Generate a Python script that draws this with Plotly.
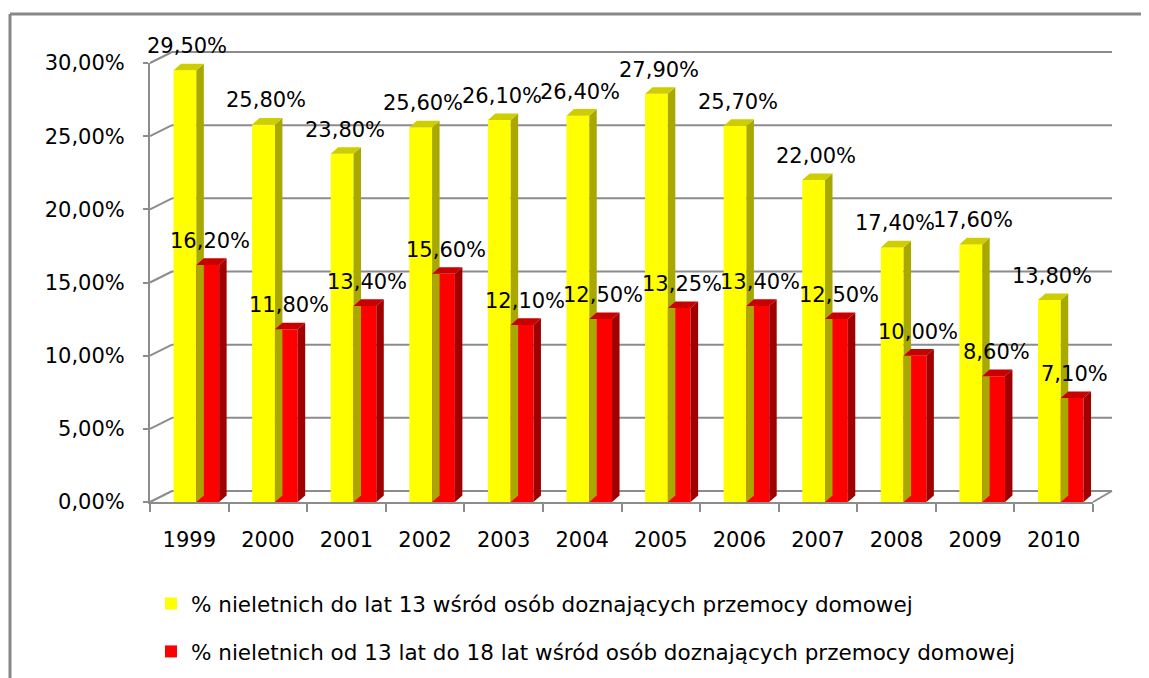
import plotly.graph_objects as go

years = [1999, 2000, 2001, 2002, 2003, 2004, 2005, 2006, 2007, 2008, 2009, 2010]
under13 = [29.5, 25.8, 23.8, 25.6, 26.1, 26.4, 27.9, 25.7, 22.0, 17.4, 17.6, 13.8]
from13to18 = [16.2, 11.8, 13.4, 15.6, 12.1, 12.5, 13.25, 13.4, 12.5, 10.0, 8.6, 7.1]
yticks = [0, 5, 10, 15, 20, 25, 30]
name1 = "% nieletnich do lat 13 wśród osób doznających przemocy domowej"
name2 = "% nieletnich od 13 lat do 18 lat wśród osób doznających przemocy domowej"


def pct(v):
    return f"{v:.2f}".replace(".", ",") + "%"


# page body margin offset of the browser (8px)
OFF = 8
W, H = 1149 - OFF, 678 - OFF
L, R, T, B = 150 - OFF, 1093 - OFF, 63 - OFF, 502 - OFF
XMIN, XMAX = years[0] - 0.5, years[-1] + 0.5
YMIN, YMAX = 0, 30
FONT = "DejaVu Sans"
GRID = "#8c8c8c"


def fx(px):
    return (px - OFF - L) / (R - L)


def fy(py):
    return (B - (py - OFF)) / (B - T)


def ydata_to_px(v):
    return OFF + B - (v - YMIN) / (YMAX - YMIN) * (B - T)


bw = 0.29
off1, off2 = -0.2, 0.09
dx = 0.095
dy = 0.45

fig = go.Figure()
fig.add_trace(go.Bar(x=years, y=under13, name=name1, width=bw, offset=off1,
                     marker=dict(color="#FFFF00", line=dict(width=0)),
                     legendgroup="a"))
fig.add_trace(go.Bar(x=years, y=from13to18, name=name2, width=bw, offset=off2,
                     marker=dict(color="#FF0000", line=dict(width=0)),
                     legendgroup="b"))

shapes = []
# back wall gridlines + floor (decorative 3D frame)
wdx, wdy = 22, 11
for v in yticks:
    py = ydata_to_px(v)
    shapes.append(dict(type="line", xref="paper", yref="paper",
                       x0=fx(150 + wdx), x1=fx(1093 + 19), y0=fy(py - wdy), y1=fy(py - wdy),
                       line=dict(color=GRID, width=2), layer="below"))
    shapes.append(dict(type="line", xref="paper", yref="paper",
                       x0=fx(150), x1=fx(150 + wdx), y0=fy(py), y1=fy(py - wdy),
                       line=dict(color=GRID, width=2), layer="below"))
py0 = ydata_to_px(0)
shapes.append(dict(type="line", xref="paper", yref="paper",
                   x0=fx(1093), x1=fx(1093 + 19), y0=fy(py0), y1=fy(py0 - wdy),
                   line=dict(color=GRID, width=2), layer="below"))

# 3D faces of bars
for vals, off, side, top in ((under13, off1, "#A8A800", "#CDCD00"),
                             (from13to18, off2, "#A00000", "#C80000")):
    for yr, v in zip(years, vals):
        x0 = yr + off
        x1 = x0 + bw
        shapes.append(dict(type="path", xref="x", yref="y",
                           path=f"M{x1},{0} L{x1},{v} L{x1+dx},{v+dy} L{x1+dx},{dy} Z",
                           fillcolor=side, line=dict(width=0), layer="above"))
        shapes.append(dict(type="path", xref="x", yref="y",
                           path=f"M{x0},{v} L{x1},{v} L{x1+dx},{v+dy} L{x0+dx},{v+dy} Z",
                           fillcolor=top, line=dict(width=0), layer="above"))

# outer border (top and left)
shapes.append(dict(type="line", xref="paper", yref="paper",
                   x0=fx(10), x1=fx(1160), y0=fy(14), y1=fy(14),
                   line=dict(color="#878787", width=3)))
shapes.append(dict(type="line", xref="paper", yref="paper",
                   x0=fx(10), x1=fx(10), y0=fy(14), y1=fy(690),
                   line=dict(color="#878787", width=3)))

annotations = []
for vals, off in ((under13, off1), (from13to18, off2)):
    for yr, v in zip(years, vals):
        annotations.append(dict(x=yr + off + bw / 2 + dx / 3, y=v, xref="x", yref="y",
                                text=pct(v),
                                showarrow=False, yanchor="bottom", yshift=10,
                                font=dict(family=FONT, size=21, color="#000000")))

fig.update_layout(
    width=W, height=H,
    margin=dict(l=L, r=W - R, t=T, b=H - B, autoexpand=False),
    paper_bgcolor="white", plot_bgcolor="rgba(0,0,0,0)",
    separators=", ",
    barmode="overlay",
    font=dict(family=FONT, size=21, color="#000000"),
    shapes=shapes,
    annotations=annotations,
    showlegend=True,
    legend=dict(x=fx(151), y=fy(583), xanchor="left", yanchor="top",
                orientation="v", tracegroupgap=17, traceorder="grouped",
                font=dict(family=FONT, size=21.5, color="#000000"),
                bgcolor="rgba(0,0,0,0)"),
    xaxis=dict(range=[XMIN, XMAX], tickmode="array", tickvals=years,
               ticktext=[str(y) for y in years], ticks="", showgrid=False,
               showline=True, linecolor=GRID, linewidth=2, zeroline=False,
               ticklabelstandoff=18,
               minor=dict(tickmode="array", tickvals=[y - 0.5 for y in years] + [years[-1] + 0.5],
                          ticks="outside", ticklen=8, tickwidth=2, tickcolor=GRID,
                          showgrid=False)),
    yaxis=dict(range=[YMIN, YMAX], tickmode="array", tickvals=yticks,
               ticktext=[pct(v) for v in yticks], showgrid=False, zeroline=False,
               showline=True, linecolor=GRID, linewidth=2,
               ticks="outside", ticklen=5, tickwidth=2, tickcolor=GRID,
               ticklabelstandoff=14),
)

fig.write_html("out.html")
